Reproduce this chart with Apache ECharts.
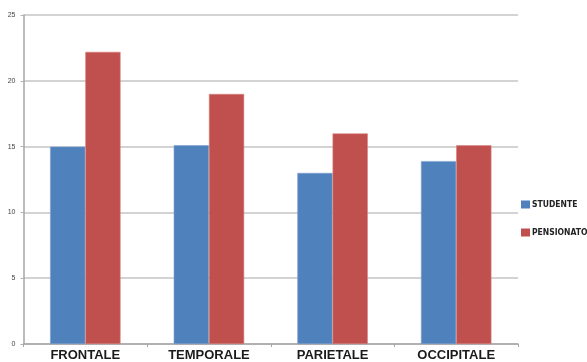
<!DOCTYPE html>
<html>
<head>
<meta charset="utf-8">
<script src="https://cdn.jsdelivr.net/npm/echarts@6/dist/echarts.min.js"></script>
<style>
  html, body { margin: 0; padding: 0; background: #fff; }
  #chart { width: 587px; height: 362px; }
</style>
</head>
<body>
<div id="chart"></div>
<script>
// Lobes of the brain on the category axis
const categories = ['FRONTALE', 'TEMPORALE', 'PARIETALE', 'OCCIPITALE'];
// Values per group
const studente = [15.0, 15.1, 13.0, 13.9];
const pensionato = [22.2, 19.0, 16.0, 15.1];
const seriesNames = ['STUDENTE', 'PENSIONATO'];

const chart = echarts.init(document.getElementById('chart'), null, { renderer: 'canvas' });

chart.setOption({
  animation: false,
  backgroundColor: '#ffffff',
  grid: { left: 23.5, right: 69, top: 15, bottom: 17, containLabel: false },
  legend: {
    orient: 'vertical',
    left: 521,
    top: 200,
    padding: 0,
    itemWidth: 9,
    itemHeight: 8,
    itemGap: 19,
    icon: 'rect',
    itemStyle: { borderWidth: 0 },
    textStyle: {
      fontFamily: '"Liberation Sans Narrow", "DejaVu Sans Condensed", "Liberation Sans", sans-serif',
      fontWeight: 'bold',
      fontSize: 8.5,
      color: '#222',
      padding: [0, 0, 0, -3]
    },
    data: seriesNames
  },
  xAxis: {
    type: 'category',
    data: categories,
    axisLine: { lineStyle: { color: '#a6a6a6', width: 1.5 } },
    axisTick: { show: true, length: 3, lineStyle: { color: '#a6a6a6' } },
    axisLabel: {
      fontFamily: '"Liberation Sans", Arial, sans-serif',
      fontWeight: 'bold',
      fontSize: 13,
      color: '#1a1a1a',
      margin: 5
    }
  },
  yAxis: {
    type: 'value',
    min: 0,
    max: 25,
    interval: 5,
    axisLine: { show: true, lineStyle: { color: '#a6a6a6', width: 1.5 } },
    axisTick: { show: true, length: 3, lineStyle: { color: '#b3b3b3' } },
    splitLine: { show: true, lineStyle: { color: '#c4c4c4', width: 1.5 } },
    axisLabel: {
      fontFamily: '"Liberation Sans", Arial, sans-serif',
      fontSize: 7,
      color: '#444',
      margin: 8
    }
  },
  series: [
    {
      name: seriesNames[0],
      type: 'bar',
      data: studente,
      barGap: '0%',
      barCategoryGap: '43%',
      itemStyle: { color: '#4F81BD', borderColor: '#7fa1cf', borderWidth: 0.6 }
    },
    {
      name: seriesNames[1],
      type: 'bar',
      data: pensionato,
      barGap: '0%',
      barCategoryGap: '43%',
      itemStyle: { color: '#C0504D', borderColor: '#d7817e', borderWidth: 0.6 }
    }
  ]
});
</script>
</body>
</html>
